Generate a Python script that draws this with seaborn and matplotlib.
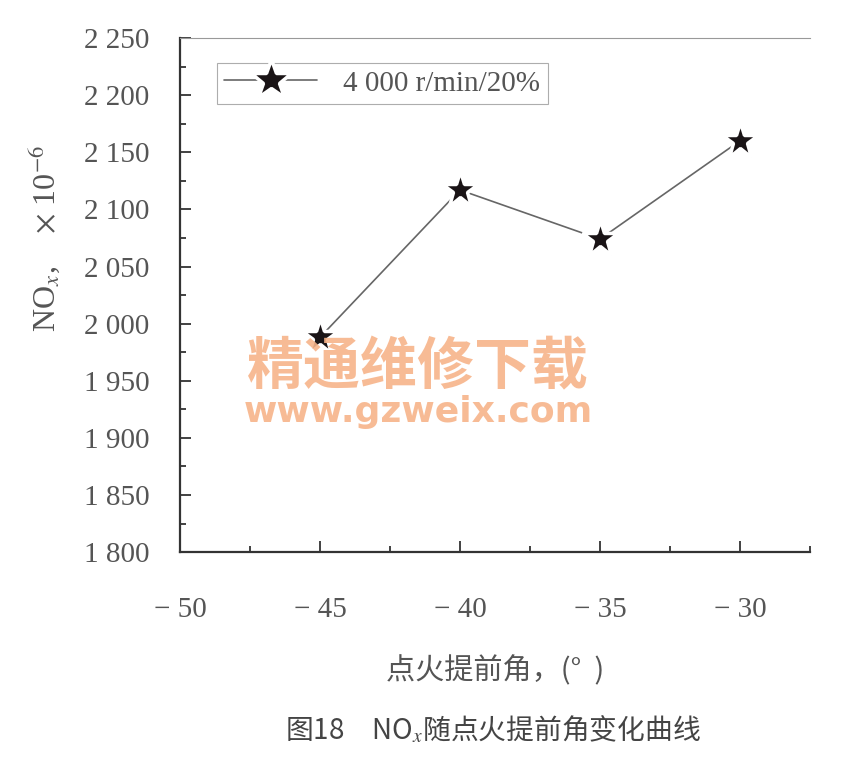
import matplotlib
matplotlib.use('Agg')
import matplotlib.pyplot as plt
import seaborn as sb
import pandas as pd
from matplotlib.ticker import MultipleLocator

# data
advance_angle = [-45, -40, -35, -30]
nox_ppm = [1988, 2117, 2074, 2160]
series_name = '4 000 r/min/20%'

x_ticks = [-50, -45, -40, -35, -30]
x_tick_labels = ['\u2212 50', '\u2212 45', '\u2212 40', '\u2212 35', '\u2212 30']
y_ticks = [1800, 1850, 1900, 1950, 2000, 2050, 2100, 2150, 2200, 2250]
y_tick_labels = ['1 800', '1 850', '1 900', '1 950', '2 000',
                 '2 050', '2 100', '2 150', '2 200', '2 250']

sb.set_style('ticks')
plt.rcParams['font.family'] = ['Liberation Serif', 'Noto Sans CJK SC', 'DejaVu Sans']
plt.rcParams['mathtext.fontset'] = 'stix'

TXT = '#555555'

df = pd.DataFrame({'angle': advance_angle, 'nox': nox_ppm, 'series': series_name})

fig = plt.figure(figsize=(8.41, 7.68), dpi=100)
ax = fig.add_axes([0.214, 0.281, 0.749, 0.6695])

sb.lineplot(data=df, x='angle', y='nox', hue='series', palette=['#666666'],
            marker='*', markersize=28, markerfacecolor='#1a1416',
            markeredgecolor='white', markeredgewidth=2.5,
            linewidth=1.2, ax=ax)

ax.set_xlim(-50, -27.5)
ax.set_ylim(1800, 2250)
ax.set_xticks(x_ticks)
ax.set_xticklabels(x_tick_labels)
ax.set_yticks(y_ticks)
ax.set_yticklabels(y_tick_labels)
ax.xaxis.set_minor_locator(MultipleLocator(2.5))
ax.yaxis.set_minor_locator(MultipleLocator(25))

ax.tick_params(axis='both', which='major', direction='in', length=8, width=1.3,
               color='#333333', labelsize=21, labelcolor=TXT)
ax.tick_params(axis='both', which='minor', direction='in', length=4, width=1.3,
               color='#333333')
ax.tick_params(axis='x', which='major', pad=32)
ax.tick_params(axis='y', which='major', pad=22)

for side in ['left', 'bottom']:
    ax.spines[side].set_color('#333333')
    ax.spines[side].set_linewidth(1.6)
ax.spines['top'].set_color('#999999')
ax.spines['top'].set_linewidth(0.8)
ax.spines['right'].set_visible(False)

ax.set_xlabel('点火提前角，(°  )', fontsize=21, color=TXT,
              family=['Noto Sans CJK SC', 'DejaVu Sans'], labelpad=24)
ax.set_ylabel(r'NO$_x$,    $\times$ 10$^{-6}$', fontsize=23, color=TXT)
ax.yaxis.set_label_coords(-0.187, 0.61)

leg = ax.legend(loc='upper left', bbox_to_anchor=(0.035, 0.98), fontsize=21,
                frameon=True, fancybox=False, edgecolor='#999999',
                handlelength=3.2, borderpad=0.25, handletextpad=0.9,
                labelcolor=TXT, markerscale=1.1)
leg.get_frame().set_linewidth(0.8)
leg.set_title(None)

# watermark from the source image
fig.text(0.497, 0.521, '精通维修下载', fontsize=41, fontweight='bold', color='#f7b48a',
         family=['Noto Sans CJK SC'], ha='center', va='center', alpha=0.9)
fig.text(0.497, 0.463, 'www.gzweix.com', fontsize=26, fontweight='bold', color='#f7b48a',
         family=['DejaVu Sans'], ha='center', va='center', alpha=0.9)

fig.text(0.586, 0.049, '图18　NO$_x$随点火提前角变化曲线', fontsize=20, color='#444444',
         family=['Noto Sans CJK SC', 'DejaVu Sans'], ha='center', va='center')

plt.savefig('out.png', dpi=100)
plt.close()
